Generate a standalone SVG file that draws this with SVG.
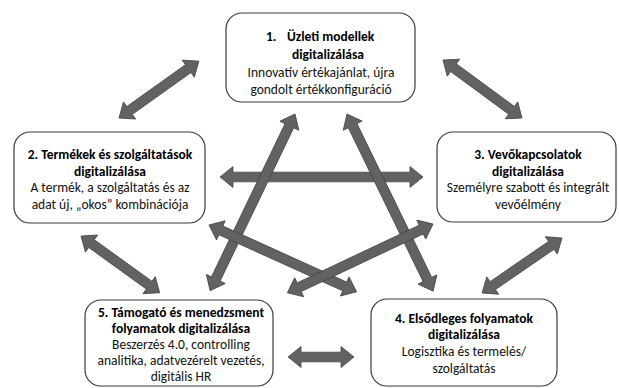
<svg xmlns="http://www.w3.org/2000/svg" width="619" height="388" viewBox="0 0 619 388">
<style>
.box{fill:#fff;stroke:#3a3a3a;stroke-width:1.2}
.arr{fill:#626262;stroke:#484848;stroke-width:0.8;stroke-linejoin:miter}
text{font-family:Carlito,Lato,"Liberation Sans",sans-serif;font-size:13.5px;fill:#111;text-anchor:middle}
.b{font-weight:bold;fill:#000}
</style>
<rect width="619" height="388" fill="#fff"/>
<g id="connectors">
<polygon class="arr" transform="translate(119,118) rotate(-35.47)" points="0,0 13,-10.5 13,-4.8 85,-4.8 85,-10.5 98,0 85,10.5 85,4.8 13,4.8 13,10.5"/>
<polygon class="arr" transform="translate(443,60) rotate(36.29)" points="0,0 13,-10.5 13,-4.8 85,-4.8 85,-10.5 98,0 85,10.5 85,4.8 13,4.8 13,10.5"/>
<polygon class="arr" transform="translate(220,177)" points="0,0 13,-10.5 13,-4.8 190,-4.8 190,-10.5 203,0 190,10.5 190,4.8 13,4.8 13,10.5"/>
<polygon class="arr" transform="translate(295,114) rotate(115.65)" points="0,0 13,-10.5 13,-4.8 183,-4.8 183,-10.5 196,0 183,10.5 183,4.8 13,4.8 13,10.5"/>
<polygon class="arr" transform="translate(347,114) rotate(64.08)" points="0,0 13,-10.5 13,-4.8 184,-4.8 184,-10.5 197,0 184,10.5 184,4.8 13,4.8 13,10.5"/>
<polygon class="arr" transform="translate(209,225) rotate(24.36)" points="0,0 13,-10.5 13,-4.8 149,-4.8 149,-10.5 162,0 149,10.5 149,4.8 13,4.8 13,10.5"/>
<polygon class="arr" transform="translate(433,224) rotate(154.71)" points="0,0 13,-10.5 13,-4.8 148,-4.8 148,-10.5 161,0 148,10.5 148,4.8 13,4.8 13,10.5"/>
<polygon class="arr" transform="translate(81,236) rotate(35.81)" points="0,0 13,-10.5 13,-4.8 84,-4.8 84,-10.5 97,0 84,10.5 84,4.8 13,4.8 13,10.5"/>
<polygon class="arr" transform="translate(562,238) rotate(145.49)" points="0,0 13,-10.5 13,-4.8 84,-4.8 84,-10.5 97,0 84,10.5 84,4.8 13,4.8 13,10.5"/>
<polygon class="arr" transform="translate(288,357)" points="0,0 13,-10.5 13,-4.8 53,-4.8 53,-10.5 66,0 53,10.5 53,4.8 13,4.8 13,10.5"/>
</g>
<g id="node1">
<rect class="box" x="226" y="13" width="189" height="89" rx="16"/>
<text class="b" style="text-anchor:start"><tspan x="266" y="41">1.</tspan><tspan x="287" y="41">Üzleti modellek</tspan></text>
<text class="b" x="328" y="59">digitalizálása</text>
<text x="321" y="77">Innovatív értékajánlat, újra</text>
<text x="321" y="94">gondolt értékkonfiguráció</text>
</g>
<g id="node2">
<rect class="box" x="14" y="132" width="191" height="91" rx="16"/>
<text class="b" x="110" y="159">2. Termékek és szolgáltatások</text>
<text class="b" x="110" y="176">digitalizálása</text>
<text x="110" y="192">A termék, a szolgáltatás és az</text>
<text x="110" y="209">adat új, „okos” kombinációja</text>
</g>
<g id="node3">
<rect class="box" x="437" y="132" width="179" height="90" rx="16"/>
<text class="b" x="528" y="159">3. Vevőkapcsolatok</text>
<text class="b" x="528" y="176">digitalizálása</text>
<text x="528" y="192">Személyre szabott és integrált</text>
<text x="528" y="209">vevőélmény</text>
</g>
<g id="node4">
<rect class="box" x="371" y="299" width="186" height="87" rx="16"/>
<text class="b" x="464" y="323">4. Elsődleges folyamatok</text>
<text class="b" x="464" y="339">digitalizálása</text>
<text x="464" y="356">Logisztika és termelés/</text>
<text x="464" y="373">szolgáltatás</text>
</g>
<g id="node5">
<rect class="box" x="85" y="300" width="188" height="86" rx="16"/>
<text class="b" x="181" y="317">5. Támogató és menedzsment</text>
<text class="b" x="181" y="333">folyamatok digitalizálása</text>
<text x="181" y="349">Beszerzés 4.0, controlling</text>
<text x="181" y="365">analitika, adatvezérelt vezetés,</text>
<text x="181" y="381">digitális HR</text>
</g>
</svg>
